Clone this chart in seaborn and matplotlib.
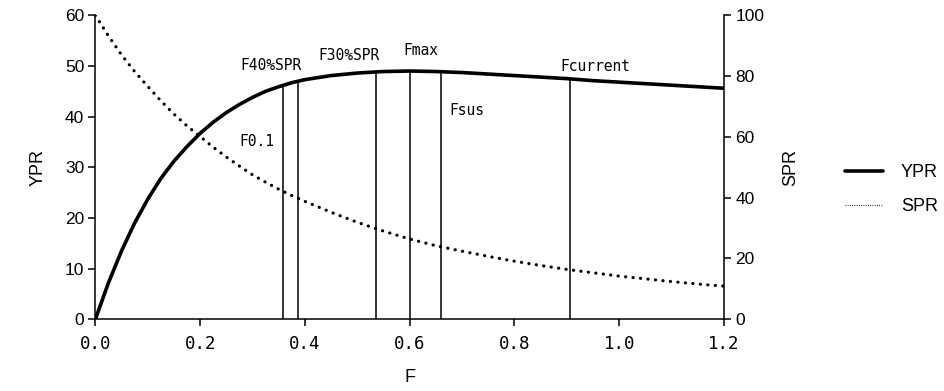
import numpy as np
import pandas as pd
import matplotlib
matplotlib.use("Agg")
import matplotlib.pyplot as plt
from matplotlib.lines import Line2D
import seaborn as sns

# Fishing mortality grid and per-recruit curves
F = [0.000, 0.025, 0.050, 0.075, 0.100, 0.125, 0.150, 0.175, 0.200, 0.225,
     0.250, 0.275, 0.300, 0.325, 0.350, 0.375, 0.400, 0.450, 0.500, 0.550,
     0.600, 0.650, 0.700, 0.750, 0.800, 0.850, 0.900, 0.950, 1.000, 1.050,
     1.100, 1.150, 1.200]
YPR = [0.0, 7.2, 13.5, 19.0, 23.7, 27.8, 31.2, 34.1, 36.7, 38.9,
       40.8, 42.4, 43.8, 45.0, 45.9, 46.7, 47.3, 48.1, 48.6, 48.9,
       49.0, 48.9, 48.7, 48.4, 48.1, 47.8, 47.5, 47.1, 46.8, 46.5,
       46.2, 45.9, 45.6]
SPR = [100.0, 93.2, 87.0, 81.5, 76.6, 71.9, 67.5, 63.6, 60.1, 56.6,
       53.4, 50.4, 47.5, 45.1, 42.8, 40.7, 38.8, 35.2, 31.9, 29.0,
       26.4, 24.2, 22.4, 20.7, 19.1, 17.7, 16.4, 15.3, 14.2, 13.3,
       12.4, 11.6, 10.9]

# Biological reference points
ref_names = ["F0.1", "F40%SPR", "F30%SPR", "Fmax", "Fsus", "Fcurrent"]
ref_F = [0.359, 0.387, 0.536, 0.601, 0.660, 0.906]

x_ticks = [0.0, 0.2, 0.4, 0.6, 0.8, 1.0, 1.2]
ypr_ticks = [0, 10, 20, 30, 40, 50, 60]
spr_ticks = [0, 20, 40, 60, 80, 100]

df = pd.DataFrame({"F": F, "YPR": YPR, "SPR": SPR})

sns.set_theme(style="ticks")
plt.rcParams["font.family"] = ["Liberation Sans", "DejaVu Sans"]
for key in ("text.color", "axes.labelcolor", "xtick.color", "ytick.color",
            "axes.edgecolor"):
    plt.rcParams[key] = "black"
plt.rcParams["axes.linewidth"] = 1.1

fig = plt.figure(figsize=(9.44, 3.91), dpi=100)
ax = fig.add_axes([0.101, 0.1834, 0.666, 0.7775])
ax2 = ax.twinx()

sns.lineplot(data=df, x="F", y="YPR", ax=ax, color="black", linewidth=2.6,
             solid_capstyle="round", solid_joinstyle="round", legend=False)
sns.lineplot(data=df, x="F", y="SPR", ax=ax2, color="black", linewidth=2.3,
             linestyle=(0, (0.05, 2.3)), dash_capstyle="round", legend=False)

# Vertical markers rising from the axis up to the YPR curve
ref_top = np.interp(ref_F, F, YPR)
ax.vlines(ref_F, 0, ref_top, color="black", linewidth=1.1)

label_pos = {
    "F0.1": (0.274, 35.0),
    "F40%SPR": (0.276, 50.0),
    "F30%SPR": (0.425, 52.1),
    "Fmax": (0.588, 53.0),
    "Fsus": (0.676, 41.3),
    "Fcurrent": (0.888, 49.8),
}
for name in ref_names:
    lx, ly = label_pos[name]
    ax.text(lx, ly, name, ha="left", va="center", fontsize=10.5,
            family=["DejaVu Sans Mono"], color="black")

ax.set_xlim(0, 1.2)
ax.set_ylim(0, 60)
ax2.set_ylim(0, 100)
ax.set_xticks(x_ticks)
ax.set_xticklabels([f"{v:.1f}" for v in x_ticks], family=["DejaVu Sans Mono"],
                   fontsize=12.5)
ax.set_yticks(ypr_ticks)
ax2.set_yticks(spr_ticks)
ax.tick_params(axis="y", labelsize=12.5, length=5, width=1.1, pad=3)
ax.tick_params(axis="x", length=5, width=1.1, pad=6)
ax2.tick_params(axis="y", labelsize=12.5, length=5, width=1.1, pad=3)

ax.set_xlabel("F", fontsize=13, labelpad=12)
ax.set_ylabel("YPR", fontsize=13, labelpad=13)
ax2.set_ylabel("SPR", fontsize=13, labelpad=13)

for a in (ax, ax2):
    a.spines["top"].set_visible(False)
    for s in a.spines.values():
        s.set_color("black")
        s.set_linewidth(1.1)
ax.spines["right"].set_visible(False)
ax2.spines["left"].set_visible(False)
ax2.spines["bottom"].set_visible(False)

handles = [Line2D([], [], color="black", linewidth=2.6),
           Line2D([], [], color="black", linewidth=0.9, linestyle=(0, (0.6, 1.2)))]
fig.legend(handles, ["YPR", "SPR"], loc="center left",
           bbox_to_anchor=(0.895, 0.515), frameon=False, fontsize=13,
           handlelength=2.1, handletextpad=1.0, labelspacing=0.95,
           borderpad=0, borderaxespad=0)

fig.savefig("out.png", dpi=100)
